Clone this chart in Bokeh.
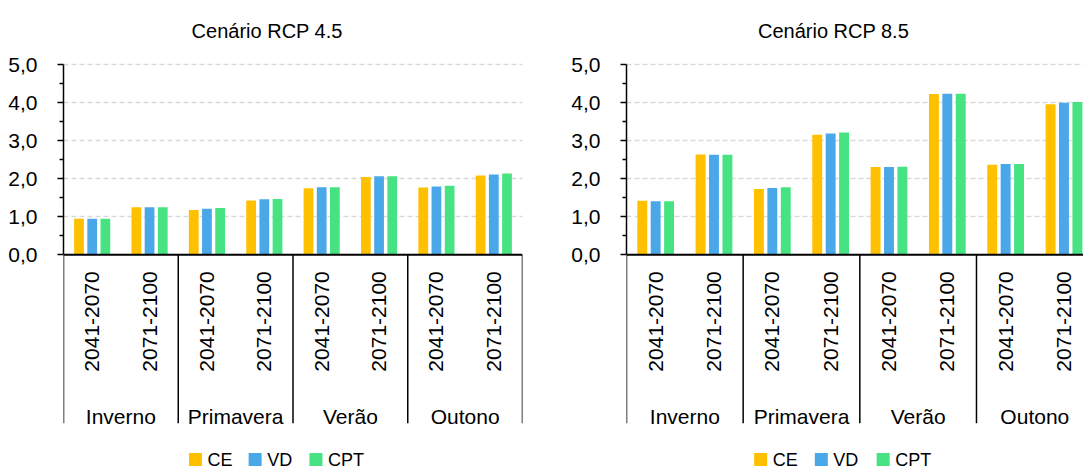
import math
from bokeh.plotting import figure
from bokeh.layouts import row
from bokeh.models import Range1d, FixedTicker, ColumnDataSource
from bokeh.core.properties import value
from bokeh.embed import file_html
from bokeh.resources import INLINE

# ---------------- data ----------------
seasons = ["Inverno", "Primavera", "Verão", "Outono"]
periods = ["2041-2070", "2071-2100"]
series_names = ["CE", "VD", "CPT"]
series_colors = ["#FFC000", "#4AA8E8", "#47E383"]
titles = ["Cenário RCP 4.5", "Cenário RCP 8.5"]

rcp45_ce = [0.95, 1.25, 1.18, 1.43, 1.75, 2.05, 1.77, 2.09]
rcp45_vd = [0.95, 1.25, 1.21, 1.46, 1.78, 2.07, 1.80, 2.11]
rcp45_cpt = [0.95, 1.25, 1.23, 1.47, 1.78, 2.07, 1.82, 2.14]

rcp85_ce = [1.42, 2.64, 1.73, 3.16, 2.31, 4.23, 2.37, 3.96]
rcp85_vd = [1.41, 2.63, 1.76, 3.19, 2.31, 4.24, 2.39, 4.00]
rcp85_cpt = [1.41, 2.63, 1.78, 3.22, 2.32, 4.24, 2.39, 4.02]

y_ticks = [0, 1, 2, 3, 4, 5]
y_tick_labels = ["0,0", "1,0", "2,0", "3,0", "4,0", "5,0"]
y_minor_ticks = [0.5, 1.5, 2.5, 3.5, 4.5]
grid_ticks = [1, 2, 3, 4, 5]

# ---------------- layout constants ----------------
FONT = "Liberation Sans"
FIG_H = 472
PX_PER_UNIT = 38.0
ZERO_FROM_TOP = 254.3


def py(page_y):
    """convert a pixel row into data units (y=0 at row 254.3)"""
    return -(page_y - ZERO_FROM_TOP) / PX_PER_UNIT


def make_chart(title, values, width, border_left, cat_px):
    n_cat = len(seasons) * len(periods)
    frame_w = min(width - border_left, cat_px * n_cat)
    border_right = width - border_left - frame_w
    x_end = frame_w / cat_px
    y_top = ZERO_FROM_TOP / PX_PER_UNIT
    y_bot = -(FIG_H - ZERO_FROM_TOP) / PX_PER_UNIT

    p = figure(width=width, height=FIG_H, output_backend="svg", toolbar_location=None,
               x_range=Range1d(0, x_end), y_range=Range1d(y_bot, y_top),
               min_border_left=border_left, min_border_right=int(round(border_right)),
               min_border_top=0, min_border_bottom=0)
    p.outline_line_color = None
    p.xaxis.visible = False
    p.xgrid.visible = False

    # y axis
    yax = p.yaxis[0]
    yax.ticker = FixedTicker(ticks=y_ticks, minor_ticks=y_minor_ticks)
    yax.bounds = (0, 5)
    yax.major_label_overrides = {t: l for t, l in zip(y_ticks, y_tick_labels)}
    yax.major_label_text_font = FONT
    yax.major_label_text_font_size = "21px"
    yax.major_label_text_color = "black"
    yax.major_label_standoff = 20
    yax.axis_line_color = "black"
    yax.axis_line_width = 1.5
    yax.major_tick_line_color = "black"
    yax.major_tick_line_width = 1.5
    yax.major_tick_out = 6
    yax.major_tick_in = 0
    yax.minor_tick_line_color = "black"
    yax.minor_tick_line_width = 1.5
    yax.minor_tick_out = 4
    yax.minor_tick_in = 0

    # grid
    p.ygrid.ticker = FixedTicker(ticks=grid_ticks)
    p.ygrid.grid_line_color = "#D9D9D9"
    p.ygrid.grid_line_width = 1.5
    p.ygrid.grid_line_dash = "5 3"

    # bars
    centers = [i + 0.5 for i in range(n_cat)]
    bar_w = 0.17
    offs = [-0.23, 0.0, 0.23]
    for vals, name, col, off in zip(values, series_names, series_colors, offs):
        src = ColumnDataSource(dict(x=[c + off for c in centers], top=vals))
        p.vbar(x="x", top="top", bottom=0, width=bar_w, source=src,
               fill_color=col, line_color=None)

    # baseline
    p.segment(x0=[0], y0=[0], x1=[n_cat], y1=[0], line_color="black", line_width=2)

    # group separators
    sep_x = [i * len(periods) for i in range(len(seasons) + 1)]
    p.segment(x0=sep_x, y0=[0] * len(sep_x), x1=sep_x, y1=[py(422.7)] * len(sep_x),
              line_color="black", line_width=1.5)

    # period labels (rotated)
    per_labels = [per for s in seasons for per in periods]
    p.text(x=centers, y=[py(270.7)] * n_cat, text=per_labels, angle=math.pi / 2,
           text_align="right", text_baseline="middle",
           text_font=value(FONT), text_font_size="21px", text_color="black")

    # season labels
    s_x = [i * len(periods) + len(periods) / 2 for i in range(len(seasons))]
    p.text(x=s_x, y=[py(415.7)] * len(seasons), text=seasons,
           text_align="center", text_baseline="alphabetic",
           text_font=value(FONT), text_font_size="21px", text_color="black")

    # title
    p.text(x=[3.55], y=[py(30.7)], text=[title], text_align="center",
           text_baseline="alphabetic", text_font=value(FONT),
           text_font_size="20px", text_color="black")

    # legend
    leg_x = [2.30, 3.34, 4.40]
    leg_y = py(459)
    p.rect(x=leg_x, y=[leg_y] * 3, width=13, height=13, width_units="screen",
           height_units="screen", fill_color=series_colors, line_color=None)
    p.text(x=leg_x, y=[leg_y] * 3, text=series_names, x_offset=12,
           text_align="left", text_baseline="middle",
           text_font=value(FONT), text_font_size="18px", text_color="black")
    return p


p1 = make_chart(titles[0], [rcp45_ce, rcp45_vd, rcp45_cpt], 560, 63, 57.375)
p2 = make_chart(titles[1], [rcp85_ce, rcp85_vd, rcp85_cpt], 523, 66, 58.33)

layout = row(p1, p2)
open("out.html", "w").write(file_html(layout, INLINE))
